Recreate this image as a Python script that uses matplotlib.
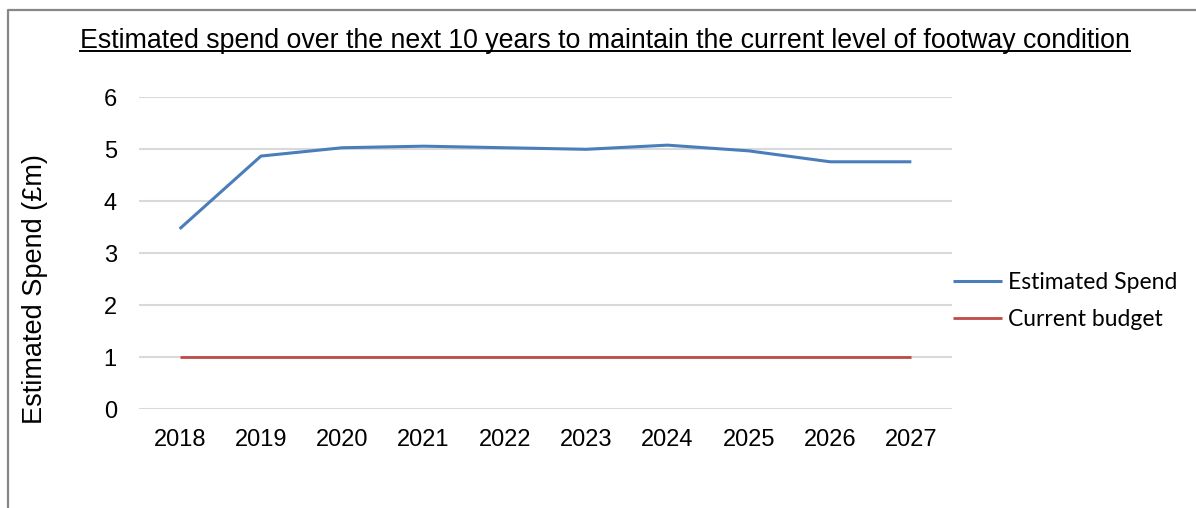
import matplotlib
matplotlib.use('Agg')
import matplotlib.pyplot as plt
from matplotlib.lines import Line2D

years = ['2018', '2019', '2020', '2021', '2022', '2023', '2024', '2025', '2026', '2027']
estimated_spend = [3.47, 4.87, 5.03, 5.06, 5.03, 5.00, 5.08, 4.97, 4.76, 4.76]
current_budget = [1, 1, 1, 1, 1, 1, 1, 1, 1, 1]

W, H = 1196, 508
fig = plt.figure(figsize=(W / 100, H / 100), dpi=100)
plt.rcParams['font.family'] = ['Liberation Sans', 'DejaVu Sans']

# plot area in pixels: x 139..952, y 97..409
ax = fig.add_axes([139 / W, 1 - 409.3 / H, (952 - 139) / W, (409.3 - 97.3) / H])
x = range(len(years))
ax.plot(x, estimated_spend, color='#4a7ebb', lw=2.2, label='Estimated Spend',
        solid_capstyle='butt')
ax.plot(x, current_budget, color='#be4b48', lw=2.0, label='Current budget',
        solid_capstyle='butt')

ax.set_xlim(-0.5, len(years) - 0.5)
ax.set_ylim(0, 6)
ax.set_yticks(range(0, 7))
ax.set_xticks(list(x))
ax.set_xticklabels(years)
ax.grid(axis='y', color='#d9d9d9', lw=1.5)
ax.set_axisbelow(True)
for s in ax.spines.values():
    s.set_visible(False)
ax.tick_params(axis='both', length=0, labelsize=17)
ax.tick_params(axis='y', pad=16)
ax.tick_params(axis='x', pad=14)

fig.text(35 / W, 1 - 289 / H, 'Estimated Spend (£m)', rotation=90,
         ha='center', va='center', fontsize=19.5)

leg = ax.legend(loc='center left', bbox_to_anchor=(953 / W, 1 - 301 / H),
                bbox_transform=fig.transFigure, frameon=False,
                prop={'family': 'Lato', 'size': 16.5}, handlelength=2.15,
                handletextpad=0.25, labelspacing=0.72, borderpad=0,
                borderaxespad=0)

# title with underline
title = fig.text(605 / W, 1 - 48 / H, 'Estimated spend over the next 10 years to maintain '
                 'the current level of footway condition', ha='center', va='baseline',
                 fontsize=19.3)
fig.canvas.draw()
bb = title.get_window_extent().transformed(fig.transFigure.inverted())
fig.add_artist(Line2D([bb.x0, bb.x1], [1 - 51 / H, 1 - 51 / H], color='black', lw=1.4,
                      transform=fig.transFigure))

# chart frame (left and top edges)
fig.add_artist(Line2D([8 / W, 8 / W, 1], [0, 1 - 10 / H, 1 - 10 / H], color='#878787',
                      lw=1.6, transform=fig.transFigure))

fig.savefig('out.png', dpi=100)
